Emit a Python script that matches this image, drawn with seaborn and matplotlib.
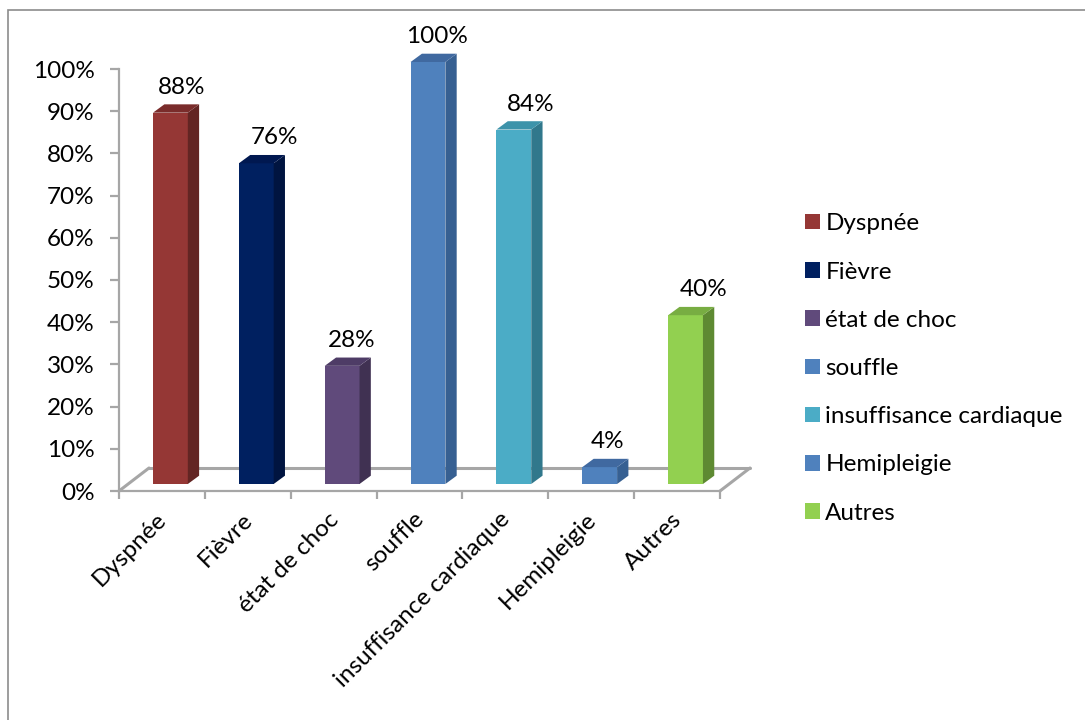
import matplotlib
matplotlib.use("Agg")
import matplotlib.pyplot as plt
import seaborn as sns
import pandas as pd
from matplotlib.patches import Polygon, Rectangle
from matplotlib.lines import Line2D
from matplotlib.transforms import Affine2D, IdentityTransform
from matplotlib.ticker import FixedLocator, PercentFormatter

categories = ["Dyspnée", "Fièvre", "état de choc", "souffle",
              "insuffisance cardiaque", "Hemipleigie", "Autres"]
percentages = [88, 76, 28, 100, 84, 4, 40]
front_colors = ["#953735", "#002060", "#604A7B", "#4F81BD", "#4BACC6", "#4F81BD", "#92D050"]
side_colors = ["#632523", "#001440", "#403152", "#376092", "#31788C", "#376092", "#5E8A32"]
top_colors = ["#7A2C2B", "#001850", "#4E3C66", "#4069A0", "#3D93AA", "#4069A0", "#78AD42"]
label_nudge = [11.5, 18.5, 9.5, 9, 16.5, 8, 18.5]

W, H, DPI = 1085, 720, 100
AXIS_GREY = "#A6A6A6"
DEPTH_X, DEPTH_Y = 11.3, 8.3       # oblique depth of each column, pixels
FLOOR_X, FLOOR_Y = 30, 23          # oblique depth of the floor, pixels
SHIFT_X, SHIFT_Y = 8.5, 7          # columns stand inside the floor, pixels
FONT_SIZE = 17.5

sns.set_theme(style="white")
plt.rcParams["font.family"] = ["Lato", "DejaVu Sans"]

fig = plt.figure(figsize=(W / DPI, H / DPI), dpi=DPI, facecolor="white")
left, right, top, bottom = 119, 720, 69, 491
ax = fig.add_axes([left / W, 1 - bottom / H, (right - left) / W, (bottom - top) / H])

df = pd.DataFrame({"categorie": categories, "part": [p / 100 for p in percentages]})
sns.barplot(data=df, x="categorie", y="part", hue="categorie", hue_order=categories,
            palette=front_colors, saturation=1, width=0.405, dodge=False, ax=ax, legend=True,
            linewidth=0)
ax.set_xlim(-0.5, len(categories) - 0.5)
ax.set_ylim(0, 1)
ax.set_xlabel("")
ax.set_ylabel("")
handles, labels = ax.get_legend_handles_labels()
ax.get_legend().remove()

# Axis lines and ticks
for name in ("top", "right"):
    ax.spines[name].set_visible(False)
for name in ("left", "bottom"):
    ax.spines[name].set_color(AXIS_GREY)
    ax.spines[name].set_linewidth(1.6)
ax.yaxis.set_major_locator(FixedLocator([i / 10 for i in range(11)]))
ax.yaxis.set_major_formatter(PercentFormatter(1.0, decimals=0))
ax.tick_params(axis="y", length=6.5, width=1.6, color=AXIS_GREY, labelsize=FONT_SIZE,
               labelcolor="black", pad=11, left=True)
ax.tick_params(axis="x", which="major", length=0, labelsize=FONT_SIZE, labelcolor="black", pad=9)
ax.xaxis.set_minor_locator(FixedLocator([i - 0.5 for i in range(len(categories) + 1)]))
ax.tick_params(axis="x", which="minor", length=6, width=1.6, color=AXIS_GREY, bottom=True)
ax.set_xticks(range(len(categories)))
ax.set_xticklabels(categories, rotation=45, ha="right", va="top", rotation_mode="anchor")
for tick_label in ax.get_xticklabels():
    tick_label.set_transform(tick_label.get_transform() + Affine2D().translate(-6, -5))

# Oblique floor behind the columns
pixels = IdentityTransform()
floor_kw = dict(color=AXIS_GREY, lw=2.2, transform=pixels, zorder=1, clip_on=False,
                solid_capstyle="round")
x0, y0 = ax.transData.transform((-0.5, 0))
x1, _ = ax.transData.transform((len(categories) - 0.5, 0))
floor_lines = [
    ([x0, x0 + FLOOR_X], [y0, y0 + FLOOR_Y]),
    ([x1, x1 + FLOOR_X], [y0, y0 + FLOOR_Y]),
    ([x0 + FLOOR_X, x1 + FLOOR_X], [y0 + FLOOR_Y, y0 + FLOOR_Y]),
]
for xs, ys in floor_lines:
    ax.add_line(Line2D(xs, ys, **floor_kw))

# Give every column a side and a top face, and its value above it
shifted = ax.transData + Affine2D().translate(SHIFT_X, SHIFT_Y)
for bar, pct, side, cap, nudge in zip(ax.patches, percentages, side_colors, top_colors, label_nudge):
    bar.set_transform(shifted)
    bar.set_clip_on(False)
    bar.set_zorder(4)
    bl = shifted.transform((bar.get_x(), 0))
    tr = shifted.transform((bar.get_x() + bar.get_width(), bar.get_height()))
    side_pts = [(tr[0], bl[1]), (tr[0] + DEPTH_X, bl[1] + DEPTH_Y),
                (tr[0] + DEPTH_X, tr[1] + DEPTH_Y), (tr[0], tr[1])]
    top_pts = [(bl[0], tr[1]), (tr[0], tr[1]),
               (tr[0] + DEPTH_X, tr[1] + DEPTH_Y), (bl[0] + DEPTH_X, tr[1] + DEPTH_Y)]
    for pts, colour in ((side_pts, side), (top_pts, cap)):
        ax.add_patch(Polygon(pts, closed=True, facecolor=colour, edgecolor="none",
                             transform=pixels, clip_on=False, zorder=4))
    centre = (bl[0] + tr[0]) / 2 + nudge
    ax.text(centre, tr[1] + DEPTH_Y + 17, f"{pct}%", transform=pixels, ha="center", va="center",
            fontsize=FONT_SIZE, color="black", clip_on=False)

# Legend on the right, square swatches
legend = fig.legend(handles, labels, loc="upper left",
                    bbox_to_anchor=(799 / W, 1 - 207 / H), bbox_transform=fig.transFigure,
                    frameon=False, fontsize=FONT_SIZE, handlelength=0.6, handleheight=0.6,
                    handletextpad=0.22, labelspacing=1.12, borderpad=0.26, borderaxespad=0)
for t in legend.get_texts():
    t.set_color("black")

# Outer border of the chart area, running off the right and bottom
fig.add_artist(Rectangle((8 / W, -0.01), 1.1, 1 - 10 / H + 0.01, transform=fig.transFigure,
                         fill=False, edgecolor="#8C8C8C", lw=1.2))

fig.savefig("out.png", dpi=DPI, facecolor="white")
